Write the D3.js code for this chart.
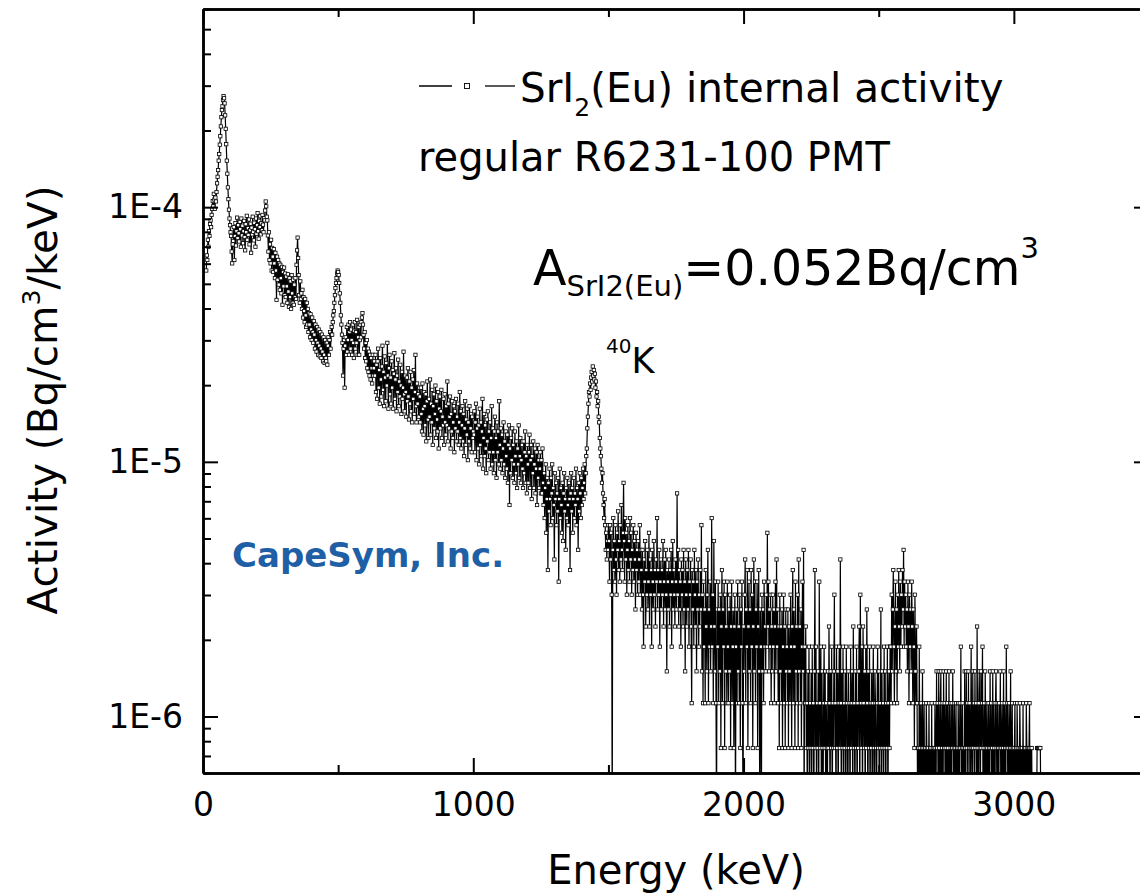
<!DOCTYPE html>
<html>
<head>
<meta charset="utf-8">
<script src="https://cdn.jsdelivr.net/npm/d3@7"></script>
<style>
  html, body { margin: 0; padding: 0; background: #fff; }
  svg { display: block; }
  text { font-family: "DejaVu Sans", Verdana, sans-serif; fill: #000; }
</style>
</head>
<body>
<svg id="chart" width="1140" height="895"></svg>
<script>
// SrI2(Eu) internal activity spectrum: counts per 2 keV channel.
const channelWidth = 2;             // keV
const activityPerCount = 0.376e-6;  // Bq/cm^3/keV for one count

const xRayPeak = [150, 172, 165, 198, 186, 214, 205, 228, 236, 222, 248, 262, 281, 268, 300, 285, 262, 290, 280, 305, 330, 350, 372, 405, 430, 468, 505, 552, 600, 640, 662, 700, 726, 712, 680, 610, 540, 470, 405, 360, 318, 286, 260, 240, 226, 212, 205, 178, 160, 190];
const lowPlateau = [
  196, 222, 165, 205, 230, 188, 214, 242, 201, 226,
  210, 195, 233, 218, 186, 240, 206, 225, 192, 214,
  235, 203, 180, 228, 212, 246, 198, 220, 207, 238,
  190, 216, 229, 176, 221, 208, 244, 213, 197, 231,
  218, 186, 240, 209, 226, 252, 214, 200, 235, 222,
  245, 208, 230, 216, 248, 227, 212, 241, 236, 258,
  280, 268, 244, 236];
const comptonShoulder = [
  206, 178, 212, 165, 190, 160, 198, 150, 184, 170,
  148, 182, 160, 140, 176, 150, 115, 170, 138, 165,
  132, 160, 126, 158, 140, 122, 155, 110, 148, 130,
  154, 120, 146, 118, 142, 130, 112, 145, 124, 108,
  140, 118, 136, 106, 144, 122, 112, 138, 110, 132,
  118, 140, 116, 158, 180, 202, 168, 144, 120, 112,
  136, 116];
const valleyRegion = [
  122, 106, 126, 98, 118, 104, 94, 116, 100, 90,
  112, 92, 106, 86, 102, 92, 82, 101, 88, 80,
  98, 86, 78, 95, 84, 74, 92, 80, 72, 90,
  78, 70, 88, 76, 69, 86, 74, 68, 84, 72,
  66, 82, 70, 65, 80, 68, 66, 78, 64, 76,
  82, 70, 80, 86, 74, 84, 90, 84, 94, 100];
const peak511Region = [
  104, 112, 120, 128, 134, 140, 146, 150, 148, 144,
  134, 122, 112, 100, 92, 84, 78, 58, 74, 80,
  52, 76, 82, 70, 90, 72, 80, 92, 70, 86,
  94, 74, 88, 80, 70, 92, 78, 68, 87, 94,
  74, 86, 78, 96, 70, 82, 90, 70, 80, 92,
  82, 94, 98, 102, 92, 84, 74, 86, 68, 78,
  66, 80, 62, 74, 60, 72, 58, 70, 56, 68,
  62, 54, 70, 58, 62, 66];
const midContinuum = [
  58, 70, 50, 64, 47, 66, 74, 52, 61, 45,
  68, 56, 48, 63, 76, 51, 60, 44, 69, 57,
  46, 65, 53, 78, 58, 43, 62, 70, 49, 57,
  45, 66, 52, 61, 43, 59, 71, 47, 56, 62,
  42, 58, 50, 67, 44, 55, 48, 64, 53, 41,
  60, 47, 52, 72, 49, 42, 58, 50, 40, 57,
  46, 62, 48, 39, 55, 45, 60, 42, 52, 38,
  56, 47, 61, 41, 50, 70, 44, 38, 54, 45,
  49, 40, 52];
const upperContinuum = [
  48, 38, 52, 41, 35, 54, 43, 34, 50, 44,
  37, 49, 32, 46, 55, 39, 33, 47, 40, 56,
  34, 45, 38, 51, 31, 44, 49, 36, 41, 53,
  33, 46, 39, 35, 50, 30, 43, 48, 36, 42,
  51, 33, 40, 37, 47, 31, 49, 38, 34, 44,
  37, 55, 32, 45, 36, 40, 48, 30, 41, 35,
  46, 33, 38, 44, 29, 42, 36, 47, 32, 40,
  35, 45, 31, 38, 50, 33, 42, 30, 37, 44,
  32, 41, 28, 36, 46, 31, 39, 34, 43, 27,
  38, 32, 44, 30, 36, 41, 29, 40, 33, 35];
const preK40 = [
  34, 42, 29, 38, 45, 27, 36, 40, 30, 37,
  26, 43, 31, 38, 28, 35, 47, 25, 33, 41,
  28, 37, 30, 24, 39, 32, 42, 27, 35, 29,
  38, 25, 33, 44, 26, 36, 29, 24, 35, 40,
  27, 33, 23, 38, 29, 35, 26, 46, 31, 25,
  36, 27, 34, 24, 30, 38, 26, 32, 23, 35,
  28, 25, 34, 22, 31, 37, 18, 30, 24, 33,
  27, 36, 23, 31, 26, 22, 35, 28, 24, 32,
  21, 30, 26, 37, 23, 28, 33, 22, 27, 31,
  25, 21, 32, 24, 29, 35, 22, 28, 20, 31,
  26, 22, 29, 34, 21, 27, 31, 19, 28, 24,
  32, 21, 26, 30, 20, 25, 29, 18, 31, 23,
  27, 21, 25, 29, 20];
const belowK40 = [
  27, 20, 30, 22, 18, 24, 16, 21, 26, 14,
  19, 23, 10, 22, 17, 25, 19, 15, 23, 20,
  26, 16, 21, 18, 11, 24, 19, 22, 15, 20,
  17, 23, 9, 19, 25, 16, 21, 18, 14, 22,
  13, 20, 24, 17, 19, 12, 21, 16, 23, 18,
  15, 22, 19, 10, 20, 24, 17, 21, 14, 19,
  23, 16, 20, 18, 25, 15, 21, 19, 12, 22,
  17, 24, 20, 16, 23, 18, 21, 25, 19, 22,
  26, 20, 24, 28];
const k40Peak = [
  30, 36, 40, 45, 50, 48, 54, 51, 57, 60,
  55, 63, 58, 61, 56, 59, 52, 55, 48, 50,
  44, 46, 40, 38, 33, 30, 28, 25, 22, 24,
  20, 18, 16, 19, 15, 12, 14, 11, 13, 12,
  15];
const aboveK40 = [
  13, 9, 15, 11, 14, 8, 1, 12, 16, 10,
  13, 9, 15, 11, 8, 14, 12, 17, 10, 13,
  9, 15, 11, 18, 12, 10, 14, 22, 13, 9,
  16, 11, 14, 8, 12, 15, 10, 13, 9, 16,
  11, 14, 8, 12, 10, 15, 9, 13, 11, 7,
  14, 10, 12, 8, 13, 9, 11, 15, 8, 12];
const highBand = [
  10, 7, 12, 8, 5, 11, 9, 13, 6, 10,
  8, 12, 7, 9, 14, 6, 11, 8, 10, 5,
  12, 9, 7, 13, 8, 10, 6, 11, 9, 16,
  7, 10, 8, 12, 5, 9, 11, 7, 10, 8,
  13, 6, 9, 11, 7, 12, 8, 4, 10, 9,
  7, 11, 6, 10, 8, 12, 5, 9, 13, 7,
  10, 8, 6, 11, 9, 7, 20, 8, 12, 6,
  10, 7, 9, 5, 11, 8, 10, 6, 12, 7,
  9, 4, 11, 8, 6, 10, 7, 12, 5, 9,
  8, 11, 6, 3, 10, 7, 9, 5, 12, 8,
  6, 10, 4, 9, 7, 11, 5, 8, 6, 10,
  7];
const upperBand = [
  15, 4, 8, 3, 9, 5, 7, 3, 10, 6,
  4, 8, 12, 3, 7, 5, 9, 4, 6, 16,
  5, 8, 3, 13, 6, 4, 9, 3, 1, 7,
  5, 9, 3, 7, 4, 8, 2, 6, 10, 3,
  7, 5, 9, 2, 8, 4, 6, 3, 9, 5,
  3, 7, 4, 8, 2, 6, 9, 3, 5, 7,
  2, 6, 8, 1, 5, 7, 3, 9, 4, 6,
  3, 8, 2, 7, 5, 9, 3, 1, 6, 4,
  8, 11, 3, 7, 5, 10, 2, 6, 9, 4,
  7, 3, 10, 5, 8, 2, 6, 11, 4, 9,
  3, 7, 5, 9, 2, 6, 10, 4, 1, 7,
  5, 1, 8, 4, 7, 3, 9, 5, 6, 4,
  8, 5, 14, 6, 9, 4, 7, 5, 8, 3,
  6, 4, 8, 5, 7, 3, 6, 9, 4, 11,
  5, 7, 3, 6, 2, 8, 4, 6, 3, 7,
  2, 5, 8, 3, 6, 2, 7, 4, 5, 3,
  7, 2, 6, 4, 3, 8, 5, 2, 6, 10,
  3, 7, 5, 2, 9, 4, 6, 3, 8, 2,
  11, 4, 6, 3, 7, 2, 5, 9, 4, 12,
  1, 5, 3, 6, 2];
const lowCountBand = [
  3, 1, 4, 2, 5, 1, 3, 2, 4, 1,
  5, 2, 3, 1, 4, 10, 2, 5, 1, 3,
  2, 4, 1, 9, 3, 2, 5, 1, 4, 2,
  1, 3, 5, 2, 4, 1, 3, 2, 1, 4,
  2, 6, 3, 1, 4, 2, 5, 1, 3, 2,
  4, 8, 2, 3, 1, 5, 2, 4, 1, 3,
  5, 2, 11, 3, 1, 4, 2, 5, 1, 3,
  2, 4, 1, 5, 3, 2, 1, 4, 2, 3,
  1, 5, 2, 3, 4, 1, 6, 2, 3, 1,
  4, 2, 5, 1, 3, 2, 4, 6, 1, 8,
  3, 2, 5, 1, 6, 3, 2, 4, 1, 5,
  2, 7, 3, 1, 4, 2, 5, 1, 3, 2,
  4, 1, 3, 5, 2, 1, 4, 3, 2, 1,
  3, 5, 2, 4, 1, 3, 2, 7, 1, 4,
  2, 3, 1, 5, 2, 4, 1, 3, 2, 5,
  1, 3, 4, 2, 5];
const tl208Region = [
  5, 3, 8, 4, 7, 10, 5, 3, 6, 9,
  4, 7, 3, 8, 5, 10, 6, 4, 9, 5,
  8, 6, 10, 7, 12, 5, 9, 6, 8, 5,
  7, 4, 9, 6, 3, 8, 5, 7, 4, 9,
  6, 3, 7, 5, 2, 8, 4, 3, 6];
const endTail = [
  3, 1, 2, 1, 5, 2, 1, 3, 1, 2,
  4, 1, 2, 3, 1, 2, 1, 3, 2, 1,
  2, 1, 3, 1, 2, 2, 1, 3, 1, 2,
  1, 2, 1, 3, 2, 1, 4, 2, 3, 1,
  4, 2, 1, 3, 4, 1, 2, 3, 1, 4,
  2, 3, 1, 2, 4, 1, 3, 2, 1, 4,
  1, 3, 2, 1, 3, 2, 4, 1, 2, 3,
  1, 2, 3, 1, 2, 1, 3, 2, 1, 3,
  2, 5, 1, 2, 3, 1, 2, 1, 4, 2,
  1, 4, 2, 3, 1, 4, 2, 3, 1, 2,
  5, 2, 1, 4, 2, 3, 1, 4, 2, 3,
  1, 6, 2, 1, 3, 4, 2, 1, 4, 2,
  3, 5, 1, 2, 3, 1, 4, 2, 1, 3,
  2, 1, 3, 2, 1, 4, 2, 3, 1, 2,
  4, 1, 3, 2, 1, 3, 4, 2, 1, 3,
  2, 1, 3, 2, 4, 1, 2, 3, 1, 2,
  4, 1, 3, 2, 1, 5, 2, 3, 1, 2,
  3, 1, 2, 4, 1, 2, 3, 1, 2, 1,
  2, 3, 1, 2, 1, 3, 2, 1, 2, 1,
  3, 2, 1, 2, 2, 1, 3, 1, 2, 1,
  2, 1, 3, 2, 1, 2, 1, 2, 3, 1,
  2, 1, 2, 1, 1, 1, 1, 1, 1, 1,
  1, 1, 2, 2, 2, 2, 2, 2, 2, 1];

// first channel energy (keV) of each block
const segments = [
  [12, xRayPeak], [112, lowPlateau], [240, comptonShoulder], [364, valleyRegion],
  [484, peak511Region], [636, midContinuum], [802, upperContinuum], [1002, preK40],
  [1252, belowK40], [1420, k40Peak], [1502, aboveK40], [1622, highBand],
  [1844, upperBand], [2234, lowCountBand], [2544, tl208Region], [2642, endTail]
];

const xMajorTicks = [0, 1000, 2000, 3000];
const xMinorTicks = [500, 1500, 2500, 3500];
const yMajorTicks = [1e-6, 1e-5, 1e-4];
const yTickLabels = ["1E-6", "1E-5", "1E-4"];

(function () {
  const points = segments.flatMap(([start, counts]) =>
    counts.map((c, i) => ({ energy: start + i * channelWidth, activity: c * activityPerCount })));

  const svg = d3.select("#chart");
  const pLeft = 203, pRight = 1149, pTop = 9, pBottom = 773;

  const x = d3.scaleLinear().domain([0, 3500]).range([pLeft, pRight]);
  const y = d3.scaleLog().domain([6e-7, 6e-4]).range([pBottom, pTop]);

  const yMinorTicks = [];
  [-7, -6, -5, -4].forEach(d => {
    for (let k = 2; k <= 9; k++) {
      const v = k * Math.pow(10, d);
      if (v >= 6e-7 * 0.999 && v <= 6e-4 * 1.001) yMinorTicks.push(v);
    }
  });

  svg.append("defs").append("clipPath").attr("id", "plotClip")
    .append("rect").attr("x", pLeft).attr("y", pTop)
    .attr("width", pRight - pLeft).attr("height", pBottom - pTop);

  // spectrum line, then hollow square markers on top
  const plot = svg.append("g").attr("clip-path", "url(#plotClip)");
  plot.append("path")
    .datum(points)
    .attr("fill", "none")
    .attr("stroke", "#000")
    .attr("stroke-width", 1.2)
    .attr("d", d3.line().x(d => x(d.energy)).y(d => y(d.activity)));

  const ms = 3.3;
  plot.append("g").selectAll("rect")
    .data(points)
    .join("rect")
    .attr("x", d => x(d.energy) - ms / 2)
    .attr("y", d => y(d.activity) - ms / 2)
    .attr("width", ms).attr("height", ms)
    .attr("fill", "#fff")
    .attr("stroke", "#000")
    .attr("stroke-width", 0.8);

  // axes: ticks point inward on all four sides
  function styleAxis(g, width) {
    g.select(".domain").attr("stroke", "#000").attr("stroke-width", 2.5);
    g.selectAll(".tick line").attr("stroke", "#000").attr("stroke-width", width);
    g.selectAll(".tick text").style("font-family", '"DejaVu Sans", Verdana, sans-serif')
      .style("font-size", "33px").attr("fill", "#000");
  }

  const gx = svg.append("g").attr("transform", `translate(0,${pBottom})`)
    .call(d3.axisBottom(x).tickValues(xMajorTicks).tickSizeInner(-15).tickSizeOuter(0)
      .tickPadding(20).tickFormat(d3.format("d")));
  gx.selectAll(".tick text").attr("y", 20);
  styleAxis(gx, 2);
  const gxm = svg.append("g").attr("transform", `translate(0,${pBottom})`)
    .call(d3.axisBottom(x).tickValues(xMinorTicks).tickSizeInner(-8).tickSizeOuter(0).tickFormat(""));
  styleAxis(gxm, 2);

  const gt = svg.append("g").attr("transform", `translate(0,${pTop})`)
    .call(d3.axisTop(x).tickValues(xMajorTicks).tickSizeInner(-15).tickSizeOuter(0).tickFormat(""));
  styleAxis(gt, 2);
  const gtm = svg.append("g").attr("transform", `translate(0,${pTop})`)
    .call(d3.axisTop(x).tickValues(xMinorTicks).tickSizeInner(-8).tickSizeOuter(0).tickFormat(""));
  styleAxis(gtm, 2);

  const gy = svg.append("g").attr("transform", `translate(${pLeft},0)`)
    .call(d3.axisLeft(y).tickValues(yMajorTicks).tickSizeInner(-15).tickSizeOuter(0)
      .tickPadding(20).tickFormat((d, i) => yTickLabels[i]));
  gy.selectAll(".tick text").attr("x", -20);
  styleAxis(gy, 2);
  const gym = svg.append("g").attr("transform", `translate(${pLeft},0)`)
    .call(d3.axisLeft(y).tickValues(yMinorTicks).tickSizeInner(-8).tickSizeOuter(0).tickFormat(""));
  styleAxis(gym, 2);

  const gr = svg.append("g").attr("transform", `translate(${pRight},0)`)
    .call(d3.axisRight(y).tickValues(yMajorTicks).tickSizeInner(-15).tickSizeOuter(0).tickFormat(""));
  styleAxis(gr, 2);
  const grm = svg.append("g").attr("transform", `translate(${pRight},0)`)
    .call(d3.axisRight(y).tickValues(yMinorTicks).tickSizeInner(-8).tickSizeOuter(0).tickFormat(""));
  styleAxis(grm, 2);

  // axis titles
  svg.append("text")
    .attr("x", (pLeft + pRight) / 2).attr("y", 884)
    .attr("text-anchor", "middle").style("font-size", "40px")
    .text("Energy (keV)");

  const yTitle = svg.append("text")
    .attr("transform", "translate(57,400) rotate(-90)")
    .attr("text-anchor", "middle").style("font-size", "40.5px");
  yTitle.append("tspan").text("Activity (Bq/cm");
  yTitle.append("tspan").attr("dy", -17).style("font-size", "25px").text("3");
  yTitle.append("tspan").attr("dy", 17).text("/keV)");

  // legend
  const legY = 86;
  svg.append("line").attr("x1", 419).attr("x2", 452).attr("y1", legY).attr("y2", legY)
    .attr("stroke", "#000").attr("stroke-width", 1.3);
  svg.append("line").attr("x1", 485).attr("x2", 515).attr("y1", legY).attr("y2", legY)
    .attr("stroke", "#000").attr("stroke-width", 1.3);
  svg.append("rect").attr("x", 467 - 2.5).attr("y", legY - 2.5).attr("width", 5).attr("height", 5)
    .attr("fill", "#fff").attr("stroke", "#000").attr("stroke-width", 0.9);

  const legText = svg.append("text").attr("x", 520).attr("y", 102).style("font-size", "40.5px");
  legText.append("tspan").text("SrI");
  legText.append("tspan").attr("dy", 14).style("font-size", "25px").text("2");
  legText.append("tspan").attr("dy", -14).text("(Eu) internal activity");

  svg.append("text").attr("x", 418).attr("y", 171).style("font-size", "40px")
    .text("regular R6231-100 PMT");

  // total activity annotation
  const act = svg.append("text").attr("x", 533).attr("y", 285).style("font-size", "49px");
  act.append("tspan").text("A");
  act.append("tspan").attr("dy", 11).style("font-size", "29px").text("SrI2(Eu)");
  act.append("tspan").attr("dy", -11).text("=0.052Bq/cm");
  act.append("tspan").attr("dy", -27).style("font-size", "29px").text("3");

  // 40K peak label
  const kLab = svg.append("text").attr("x", 606).attr("y", 373);
  kLab.append("tspan").attr("dy", -20).style("font-size", "20px").text("40");
  kLab.append("tspan").attr("dy", 20).style("font-size", "35px").text("K");

  svg.append("text").attr("x", 232).attr("y", 567)
    .style("font-size", "34px").style("font-weight", "bold").style("fill", "#1f5fa6")
    .text("CapeSym, Inc.");
})();
</script>
</body>
</html>
